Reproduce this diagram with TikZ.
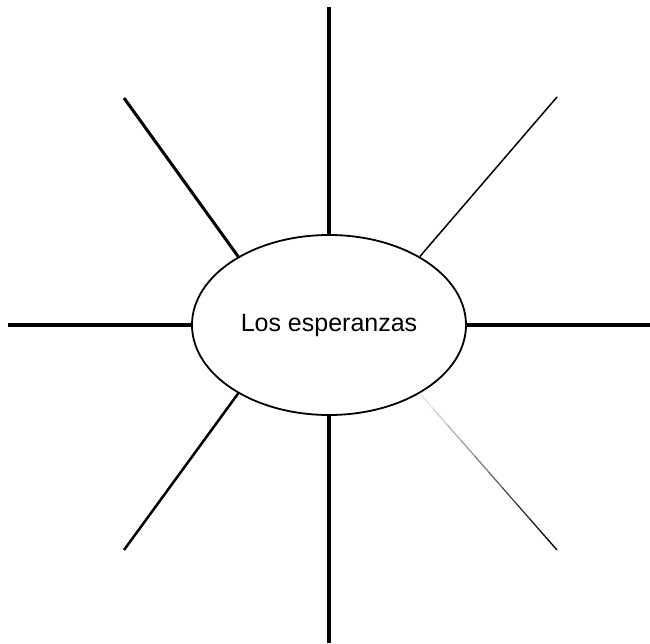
\documentclass[tikz,border=0pt]{standalone}
\usepackage{fontspec}
\setmainfont{Liberation Sans}
\usepackage{tikz}
\usetikzlibrary{shapes.geometric,calc}

\begin{document}
\begin{tikzpicture}[x=1pt, y=1pt,
		hopenode/.style={ellipse, draw=black, line width=1.8pt, minimum width=274pt, minimum height=180pt, inner sep=0pt, font=\fontsize{25}{30}\selectfont},
		ray/.style={draw=black, line width=#1},
	]
		\useasboundingbox (0,0) rectangle (650,643);

		% nodes
		\node[hopenode] (hope) at (329,318) {Los esperanzas};
		\coordinate (n)  at (329,636);
		\coordinate (s)  at (329,0);
		\coordinate (w)  at (8,318);
		\coordinate (e)  at (650,318);
		\coordinate (nw) at (124,545);
		\coordinate (ne) at (557,546);
		\coordinate (sw) at (124,93);
		\coordinate (se) at (557,93);

		% lines
		\draw[ray=4pt] (hope.north) -- (n);
		\draw[ray=4pt] (hope.south) -- (s);
		\draw[ray=3.5pt] (hope.west) -- (w);
		\draw[ray=3.5pt] (hope.east) -- (e);
		\draw[ray=3pt] (hope.143) -- (nw);
		\draw[ray=1.5pt] (hope.37) -- (ne);
		\draw[ray=2.5pt] (hope.217) -- (sw);
		\foreach \i in {0,...,9} {
			\pgfmathtruncatemacro\p{10+\i*10}
			\draw[black!\p, line width=1.3pt] ($(hope.323)!\i/10!(se)$) -- ($(hope.323)!\i/10+0.1!(se)$);
		}
	\end{tikzpicture}
\end{document}
